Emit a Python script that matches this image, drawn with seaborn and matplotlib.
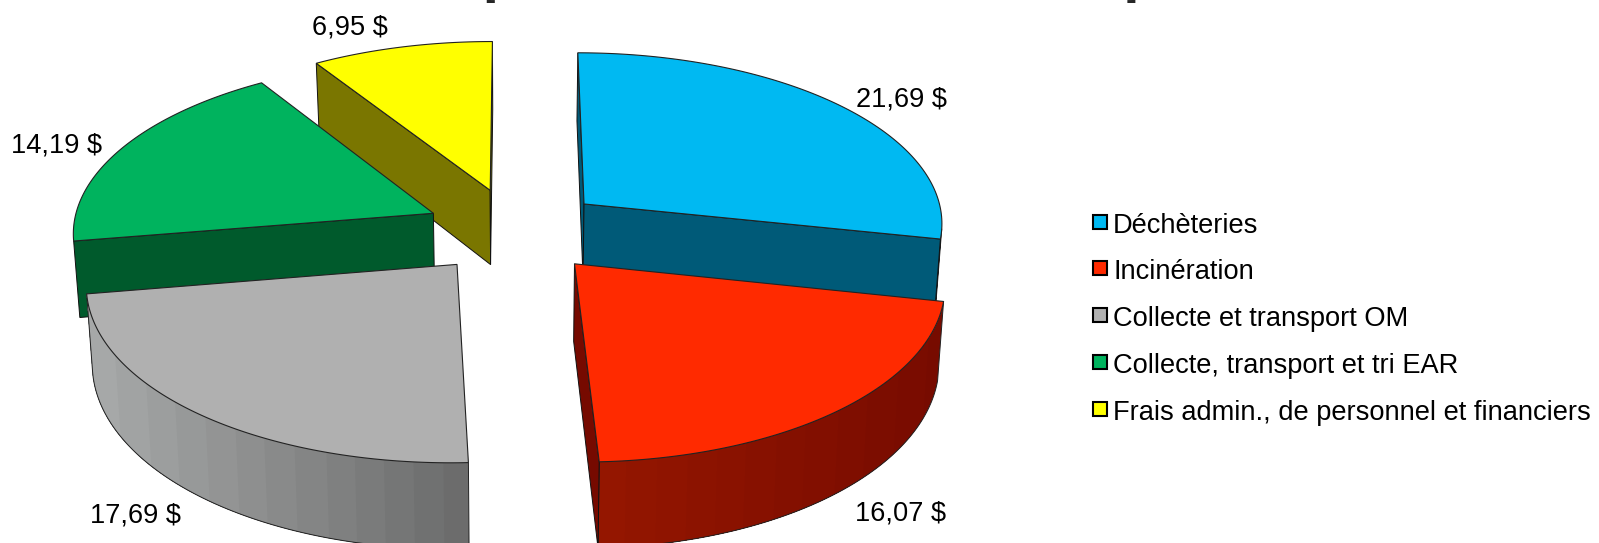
import numpy as np
import matplotlib
matplotlib.use('Agg')
import matplotlib.pyplot as plt
import matplotlib.colors as mcolors
import seaborn as sns
from matplotlib.patches import Polygon, Rectangle

categories = ['Déchèteries', 'Incinération', 'Collecte et transport OM',
              'Collecte, transport et tri EAR', 'Frais admin., de personnel et financiers']
values = [21.69, 16.07, 17.69, 14.19, 6.95]
top_colors = ['#00B9F2', '#FF2A00', '#B0B0B0', '#00B35E', '#FFFF00']
wall_left = ['#005A78', '#941600', '#A6A8A8', '#005A2C', '#7A7600']
wall_right = ['#005A78', '#760A00', '#686868', '#005A2C', '#7A7600']

# projection of the pie plane to pixels
XC, YC, RX, RY = 515, 230.5, 361, 171.3
PERSP = 0.1
EXPLODE = 0.25
DEPTH = 76
BOTTOM_SHRINK = 0.986
BAND = 30

label_pos = [(902, 100), (901, 514), (136, 516), (57, 145), (350, 28)]
legend_y = [222, 268, 315, 362, 409]


def project(x, z):
    f = 1 + PERSP * z
    return XC + RX * x / f, YC - RY * z / f


def project_low(x, z):
    f = 1 + PERSP * z
    sx, sy = project(x, z)
    return XC + (sx - XC) * BOTTOM_SHRINK, sy + DEPTH / f


def area(pts):
    pts = np.array(pts)
    x, y = pts[:, 0], pts[:, 1]
    return 0.5 * np.sum(x * np.roll(y, -1) - np.roll(x, -1) * y)


def draw_wedge(ax, start, end, top, left, right):
    mid = (start + end) / 2
    ox, oz = EXPLODE * np.sin(mid), EXPLODE * np.cos(mid)
    th = np.linspace(start, end, 120)
    xs = np.r_[ox, ox + np.sin(th)]
    zs = np.r_[oz, oz + np.cos(th)]
    hi = [project(a, b) for a, b in zip(xs, zs)]
    lo = [project_low(a, b) for a, b in zip(xs, zs)]
    n = len(hi)

    # outer wall first, cut in flat bands like the old renderer did
    c_l, c_r = np.array(mcolors.to_rgb(left)), np.array(mcolors.to_rgb(right))
    seen = [i for i in range(1, n - 1) if area([hi[i], hi[i + 1], lo[i + 1], lo[i]]) < 0]
    if seen:
        span = [hi[i][0] for i in seen] + [hi[seen[-1] + 1][0]]
        x_min, x_max = min(span), max(span)
        last = seen[-1] + 1
        drawn = set()
        for i in seen:
            b = int((hi[i][0] - x_min) // BAND)
            if b in drawn:
                continue
            drawn.add(b)
            u = min(1, b * BAND / max(1, x_max - x_min))
            c = (1 - u) * c_l + u * c_r
            # each band runs on to the end of the wall, the next one paints over it
            ids = list(range(i, last + 1))
            poly = [hi[k] for k in ids] + [lo[k] for k in reversed(ids)]
            ax.add_patch(Polygon(poly, closed=True, fc=c, ec='none', zorder=ax.zo))
            ax.zo += 1
        ids = seen + [last]
        rim = [hi[ids[0]]] + [lo[i] for i in ids] + [hi[ids[-1]]]
        ax.plot([p[0] for p in rim], [p[1] for p in rim], color='#222222', lw=0.7, zorder=ax.zo)
        ax.zo += 1

    # flat cut faces, back ones left out
    for i, j in [(0, 1), (n - 1, 0)]:
        quad = [hi[i], hi[j], lo[j], lo[i]]
        if area(quad) < 0:
            ax.add_patch(Polygon(quad, closed=True, fc=c_r, ec='#111111', lw=0.7, zorder=ax.zo))
            ax.zo += 1

    ax.add_patch(Polygon(hi, closed=True, fc=top, ec='#222222', lw=0.8, zorder=ax.zo))
    ax.zo += 1


sns.set_theme(style='white')
plt.rcParams['font.family'] = ['Liberation Sans', 'DejaVu Sans']

fig = plt.figure(figsize=(15.99, 5.43), dpi=100)
ax = fig.add_axes([0, 0, 1, 1])
ax.set_xlim(0, 1599)
ax.set_ylim(543, 0)
ax.axis('off')
ax.zo = 2

edges = np.r_[0, np.cumsum(values)] / np.sum(values) * 2 * np.pi
for k in [4, 0, 3, 2, 1]:
    draw_wedge(ax, edges[k], edges[k + 1], top_colors[k], wall_left[k], wall_right[k])

for v, (x, y) in zip(values, label_pos):
    ax.text(x, y, f'{v:.2f}'.replace('.', ',') + ' $', fontsize=19.6, color='black',
            ha='center', va='center', zorder=1000)

for name, col, y in zip(categories, top_colors, legend_y):
    ax.add_patch(Rectangle((1093, y - 7), 14, 14, fc=col, ec='black', lw=1.5, zorder=1000))
    ax.text(1113, y + 4, name, fontsize=19.6, color='black', ha='left', va='center', zorder=1000)

# only the feet of the title's brackets are left at the top edge of the picture
ax.text(489, -4, '[', fontsize=22, fontweight='bold', ha='center', va='baseline', clip_on=False)
ax.text(1132, -4, ']', fontsize=22, fontweight='bold', ha='center', va='baseline', clip_on=False)

fig.savefig('out.png', dpi=100)
